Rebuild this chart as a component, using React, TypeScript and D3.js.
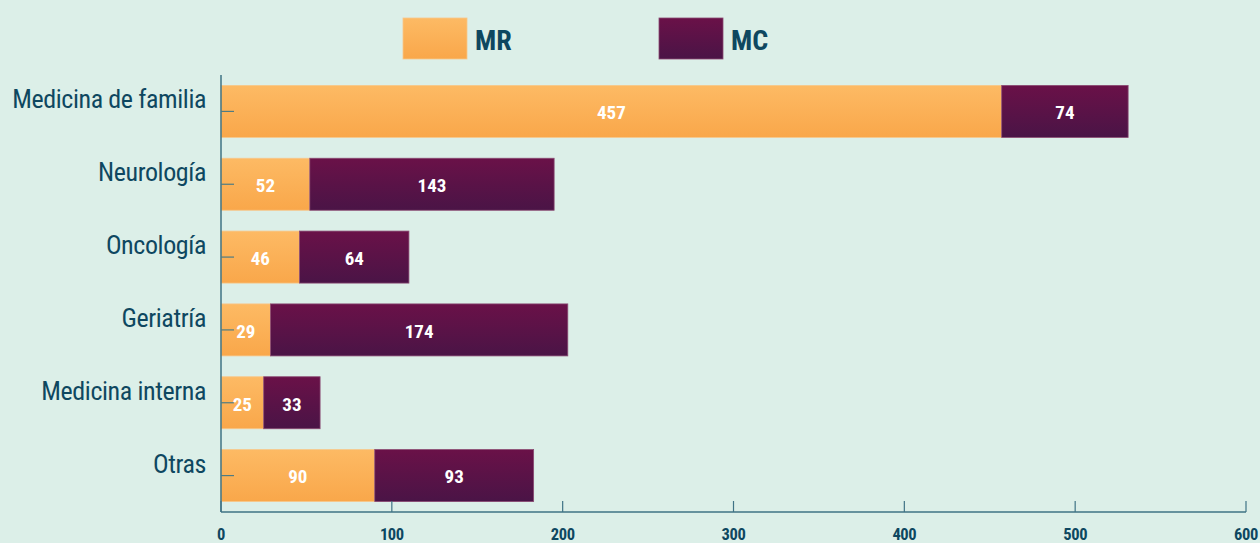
import React, { useEffect, useRef } from "react";
import * as d3 from "d3";

const categories = ["Medicina de familia", "Neurología", "Oncología", "Geriatría", "Medicina interna", "Otras"];
const mrValues = [457, 52, 46, 29, 25, 90];
const mcValues = [74, 143, 64, 174, 33, 93];
const seriesNames = ["MR", "MC"];
const xTicks = [0, 100, 200, 300, 400, 500, 600];

const W = 1260;
const H = 543;
const FONT = "'Roboto Condensed', 'Liberation Sans Narrow', 'DejaVu Sans Condensed', Roboto, sans-serif";
const TEXT = "#0e4760";

export default function App() {
  const ref = useRef<SVGSVGElement | null>(null);

  useEffect(() => {
    document.body.style.margin = "0";
    const svg = d3.select(ref.current);
    svg.selectAll("*").remove();

    const defs = svg.append("defs");
    const gMR = defs.append("linearGradient").attr("id", "gMR").attr("x1", 0).attr("y1", 0).attr("x2", 0).attr("y2", 1);
    gMR.append("stop").attr("offset", "0%").attr("stop-color", "#fdba64");
    gMR.append("stop").attr("offset", "100%").attr("stop-color", "#f9a74a");
    const gMC = defs.append("linearGradient").attr("id", "gMC").attr("x1", 0).attr("y1", 0).attr("x2", 0).attr("y2", 1);
    gMC.append("stop").attr("offset", "0%").attr("stop-color", "#6a1148");
    gMC.append("stop").attr("offset", "100%").attr("stop-color", "#4a1446");

    svg.append("rect").attr("width", W).attr("height", H).attr("fill", "#dcefe8");

    const x = d3.scaleLinear().domain([0, 600]).range([221, 1246]);
    const y = d3.scaleBand<string>().domain(categories).range([75, 512]).paddingInner(0.286).paddingOuter(0.143);

    const fills = ["url(#gMR)", "url(#gMC)"];
    const strokes = ["#f7c78a", "#8a4a72"];

    const rows = categories.map((c, i) => ({ c, mr: mrValues[i], mc: mcValues[i] }));
    rows.forEach((r) => {
      const segs = [
        { x0: 0, x1: r.mr, k: 0 },
        { x0: r.mr, x1: r.mr + r.mc, k: 1 },
      ];
      segs.forEach((s) => {
        svg.append("rect")
          .attr("x", x(s.x0))
          .attr("y", y(r.c)!)
          .attr("width", x(s.x1) - x(s.x0))
          .attr("height", y.bandwidth())
          .attr("fill", fills[s.k])
          .attr("stroke", strokes[s.k])
          .attr("stroke-width", 0.8);
      });
    });

    const axisColor = "#3f7385";
    svg.append("line").attr("x1", 221).attr("x2", 221).attr("y1", 75).attr("y2", 512)
      .attr("stroke", axisColor).attr("stroke-width", 1.5);
    categories.forEach((c) => {
      const cy = y(c)! + y.bandwidth() / 2;
      svg.append("line").attr("x1", 221).attr("x2", 234).attr("y1", cy).attr("y2", cy)
        .attr("stroke", "#4f7b82").attr("stroke-width", 1.2);
      svg.append("text").attr("x", 206).attr("y", cy - 3)
        .attr("text-anchor", "end")
        .attr("font-family", FONT).attr("font-size", 26).attr("letter-spacing", -0.4).attr("fill", TEXT)
        .text(c);
    });
    svg.append("line").attr("x1", 221).attr("x2", 1246).attr("y1", 512).attr("y2", 512)
      .attr("stroke", axisColor).attr("stroke-width", 1.5);
    xTicks.forEach((t) => {
      svg.append("line").attr("x1", x(t)).attr("x2", x(t)).attr("y1", 512).attr("y2", 501)
        .attr("stroke", axisColor).attr("stroke-width", 1.2);
      svg.append("text").attr("x", x(t)).attr("y", 540)
        .attr("text-anchor", "middle")
        .attr("font-family", FONT).attr("font-size", 16.5).attr("letter-spacing", -0.4)
        .attr("font-weight", 700).attr("fill", TEXT)
        .text(t);
    });

    rows.forEach((r) => {
      const cy = y(r.c)! + y.bandwidth() / 2;
      [
        { a: 0, b: r.mr, v: r.mr },
        { a: r.mr, b: r.mr + r.mc, v: r.mc },
      ].forEach((s) => {
        svg.append("text")
          .attr("x", (x(s.a) + x(s.b)) / 2)
          .attr("y", cy + 1)
          .attr("dy", "0.36em")
          .attr("text-anchor", "middle")
          .attr("font-family", FONT).attr("font-size", 19).attr("font-weight", 700).attr("fill", "#ffffff")
          .text(s.v);
      });
    });

    const legendX = [403, 659];
    seriesNames.forEach((n, i) => {
      svg.append("rect").attr("x", legendX[i]).attr("y", 18).attr("width", 64).attr("height", 41)
        .attr("fill", fills[i]).attr("stroke", strokes[i]).attr("stroke-width", 0.8);
      svg.append("text").attr("x", legendX[i] + 72).attr("y", 40).attr("dy", "0.36em")
        .attr("font-family", FONT).attr("font-size", 28).attr("font-weight", 700).attr("fill", TEXT)
        .text(n);
    });
  }, []);

  return <svg ref={ref} width={W} height={H} style={{ display: "block" }} />;
}
